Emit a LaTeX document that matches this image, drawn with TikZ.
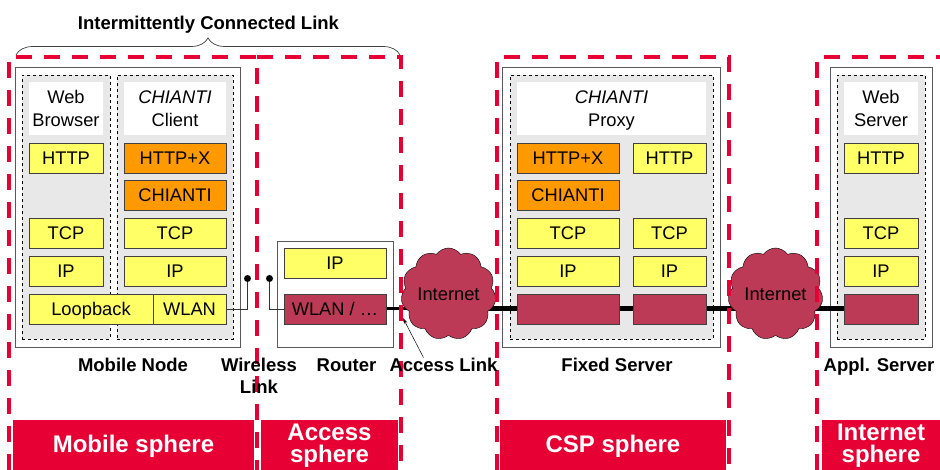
\documentclass[tikz,border=0pt]{standalone}
\usepackage{fontspec}
\setmainfont{Liberation Sans}
\usetikzlibrary{arrows.meta,backgrounds,decorations.pathreplacing,shapes.symbols}
\definecolor{chiyellow}{HTML}{FFFF66}
\definecolor{chiorange}{HTML}{FF9900}
\definecolor{chimaroon}{HTML}{BC3A55}
\definecolor{chired}{HTML}{E60033}
\definecolor{chigrey}{HTML}{E8E8E8}
\tikzset{
    >={Stealth[length=6pt,width=3.5pt]},
    chi/.style={
        x=1pt,y=-1pt,
        every node/.append style={inner sep=0pt,outer sep=0pt},
        host/.append style={draw=black!65,fill=white,line width=.8pt},
        stack/.append style={draw=black,dashed,line width=.5pt,fill=chigrey,minimum height=264pt},
        title/.append style={fill=white,minimum height=53pt,align=center,font=\fontsize{18.3}{23}\selectfont},
        proto/.append style={draw=black!75,line width=.8pt,fill=chiyellow,minimum height=30pt,text height=13pt,text depth=0pt,font=\fontsize{18.3}{20}\selectfont},
        chiproto/.append style={proto,fill=chiorange},
        phy/.append style={proto,fill=chimaroon},
        wide/.append style={minimum width=102pt},
        narrow/.append style={minimum width=74pt},
        inet/.append style={cloud,cloud puffs=11,cloud puff arc=110,cloud ignores aspect,draw=black,fill=chimaroon,minimum width=95pt,minimum height=92pt,font=\fontsize{18.3}{20}\selectfont},
        caption/.append style={anchor=base,align=center,font=\bfseries\fontsize{18.5}{22}\selectfont},
        sphere/.append style={fill=chired,text=white,minimum height=51pt,align=center,font=\bfseries\fontsize{24}{22}\selectfont},
        boundary/.append style={draw=chired,line width=4pt,dash pattern=on 16pt off 12pt},
        contact/.append style={circle,fill=black,minimum size=7pt},
        wire/.append style={draw=black!80,line width=.9pt},
        link/.append style={draw=black,line width=5pt}
    }
}
\newcommand{\twolines}[2]{\rule{0pt}{18.5pt}#1\\#2\rule[-4.5pt]{0pt}{4.5pt}}

\begin{document}
\begin{tikzpicture}[chi]
    \useasboundingbox (0,0) rectangle (940,470);

    % boxes at the back
    \begin{scope}[on background layer]
        \node[host,minimum width=225pt,minimum height=280pt] (mobile) at (127.5,207) {};
        \node[stack,minimum width=88pt] (browser) at (66,207) {};
        \node[stack,minimum width=116pt] (client) at (175,207) {};
        \node[host,minimum width=116pt,minimum height=106pt] (router) at (335,294) {};
        \node[host,minimum width=218pt,minimum height=280pt] (fixed) at (611.5,207) {};
        \node[stack,minimum width=203pt] (proxy) at (611.5,207) {};
        \node[host,minimum width=102pt,minimum height=280pt] (appl) at (881,207) {};
        \node[stack,minimum width=88pt] (server) at (881,207) {};
    \end{scope}

    % mobile node
    \node[title,narrow] (browsertitle) at (66,108.5) {\twolines{Web}{Browser}};
    \node[title,wide] (clienttitle) at (175,108.5) {\twolines{\textit{CHIANTI}}{Client}};
    \node[proto,narrow] (bhttp) at (66,158) {HTTP};
    \node[proto,narrow] (btcp) at (66,233) {TCP};
    \node[proto,narrow] (bip) at (66,271) {IP};
    \node[chiproto,wide] (chttpx) at (175,158) {HTTP+X};
    \node[chiproto,wide] (cchianti) at (175,195) {CHIANTI};
    \node[proto,wide] (ctcp) at (175,233) {TCP};
    \node[proto,wide] (cip) at (175,271) {IP};
    \node[proto,minimum width=124pt] (loop) at (91,309) {Loopback};
    \node[proto,minimum width=73pt] (mwlan) at (189.5,309) {WLAN};

    % router
    \node[proto,wide] (rip) at (335,263.5) {IP};
    \node[phy,wide] (rwlan) at (335,309) {WLAN / \dots};

    % fixed server
    \node[title,minimum width=189pt] (proxytitle) at (611.5,108.5) {\twolines{\textit{CHIANTI}}{Proxy}};
    \node[chiproto,wide] (phttpx) at (568,158) {HTTP+X};
    \node[chiproto,wide] (pchianti) at (568,195) {CHIANTI};
    \node[proto,wide] (ptcpa) at (568,233) {TCP};
    \node[proto,wide] (pipa) at (568,271) {IP};
    \node[phy,wide] (pphya) at (568,309) {};
    \node[proto,minimum width=73pt] (phttp) at (669.5,158) {HTTP};
    \node[proto,minimum width=73pt] (ptcpb) at (669.5,233) {TCP};
    \node[proto,minimum width=73pt] (pipb) at (669.5,271) {IP};
    \node[phy,minimum width=73pt] (pphyb) at (669.5,309) {};

    % appl. server
    \node[title,narrow] (servertitle) at (881,108.5) {\twolines{Web}{Server}};
    \node[proto,narrow] (shttp) at (881,158) {HTTP};
    \node[proto,narrow] (stcp) at (881,233) {TCP};
    \node[proto,narrow] (sip) at (881,271) {IP};
    \node[phy,narrow] (sphy) at (881,309) {};

    \node[inet] (inetA) at (448.5,294) {Internet};
    \node[inet] (inetB) at (775.5,294) {Internet};
    \node[contact] (dotl) at (247.5,278.5) {};
    \node[contact] (dotr) at (269.5,278.5) {};

    % links go under the nodes
    \begin{scope}[on background layer]
        \draw[wire] (mwlan.east) -| (dotl);
        \draw[wire] (rwlan.west) -| (dotr);
        \draw[link,line width=3pt] (rwlan.east) -- (rwlan.east -| inetA);
        \draw[link] (inetA |- pphya) -- (pphya.west);
        \draw[link] (pphya.east) -- (pphyb.west);
        \draw[link] (pphyb.east) -- (inetB |- pphyb);
        \draw[link] (inetB |- sphy) -- (sphy.west);
    \end{scope}

    % spheres
    \draw[boundary] (9,470) -- (9,57) -- (257,57) -- (257,470);
    \draw[boundary] (257,57) -- (401,57) -- (401,470);
    \draw[boundary] (497,470) -- (497,57) -- (729,57) -- (729,470);
    \draw[boundary] (817,470) -- (817,57) -- (940,57);
    \node[sphere,minimum width=241pt,text height=14pt,text depth=0pt] (msphere) at (133.5,445.5) {Mobile sphere};
    \node[sphere,minimum width=137pt] (asphere) at (329.5,445.5) {Access\\sphere};
    \node[sphere,minimum width=226pt,text height=14pt,text depth=0pt] (csphere) at (613,445.5) {CSP sphere};
    \node[sphere,minimum width=118pt] (isphere) at (881,445.5) {Internet\\sphere};

    % captions
    \node[caption] (lmobile) at (133,371) {Mobile Node};
    \node[caption] (lwireless) at (259,393) {Wireless\\Link};
    \node[caption] (lrouter) at (346.5,371) {Router};
    \node[caption] (laccess) at (443.5,371) {Access Link};
    \node[caption] (lfixed) at (617,371) {Fixed Server};
    \node[caption] (lappl) at (879,371) {Appl. Server};
    \node[caption] (lbrace) at (208.5,30) {Intermittently Connected Link};
    \coordinate (bracel) at (16,55);
    \coordinate (bracer) at (400,55);
    \draw[draw=black!75,line width=.7pt,decorate,decoration={brace,amplitude=17pt,aspect=.5}] (bracel) -- (bracer);
    \coordinate (accesstip) at (403,318);
    \draw[->,line width=.5pt] ([xshift=-20pt]laccess.north) -- (accesstip);
\end{tikzpicture}
\end{document}
